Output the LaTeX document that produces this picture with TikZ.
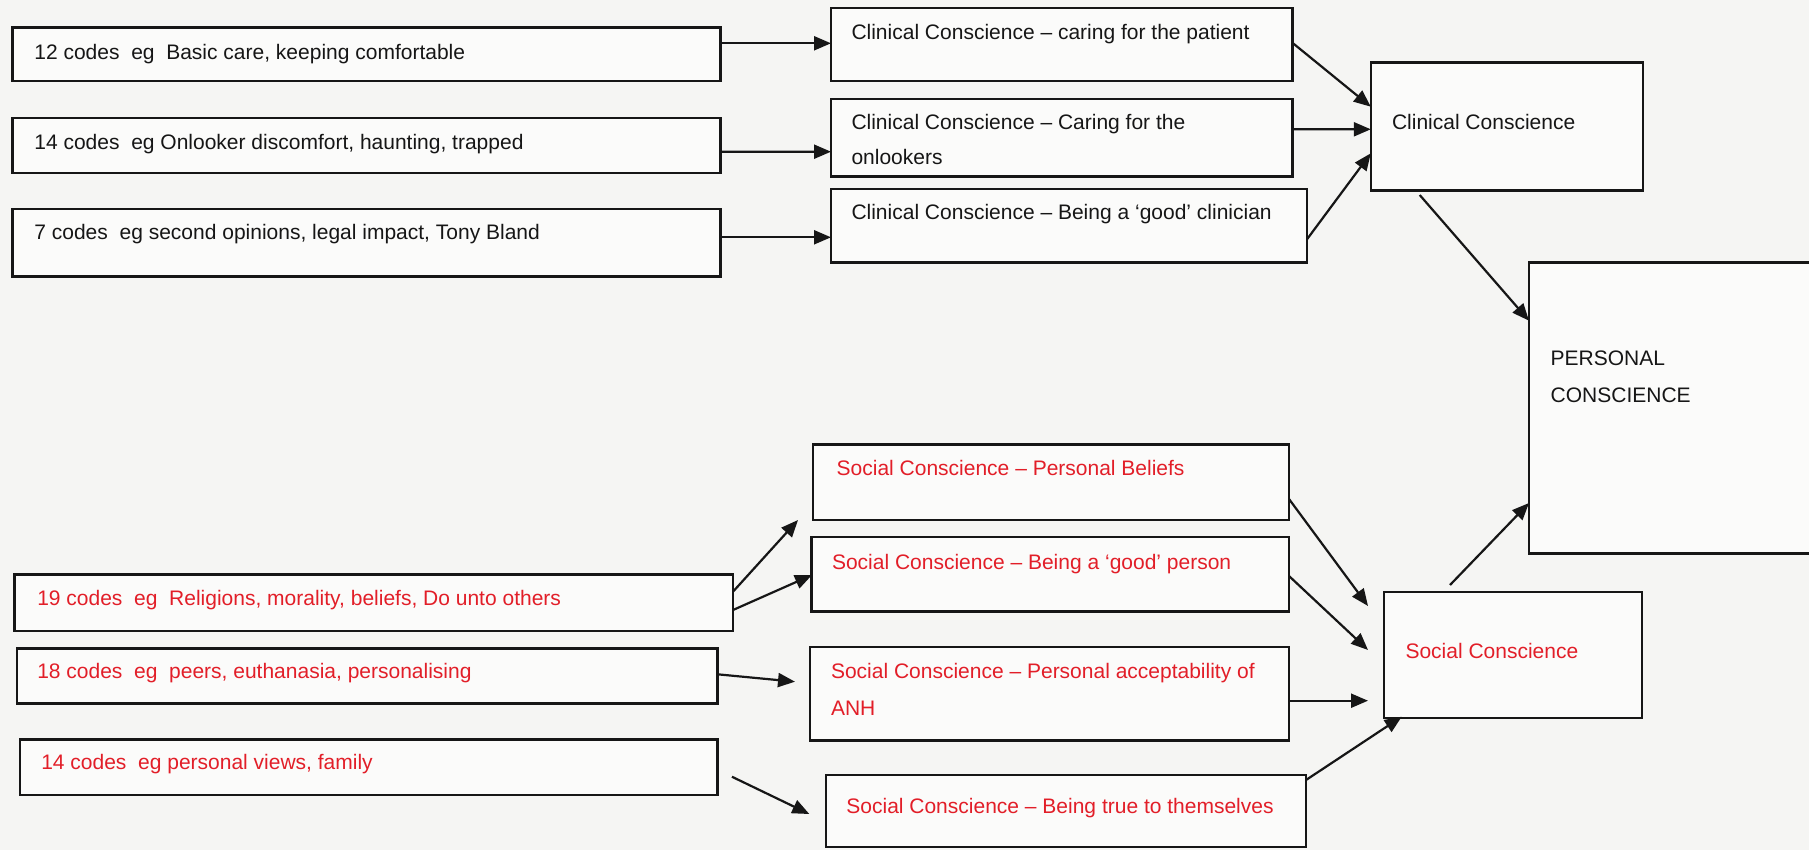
\documentclass[tikz,border=0pt]{standalone}
\usepackage{fontspec}
\setmainfont{Liberation Sans}
\usetikzlibrary{arrows.meta,fit,calc}

\definecolor{paper}{RGB}{245,245,243}
\definecolor{boxfill}{RGB}{251,251,250}
\definecolor{ink}{RGB}{22,22,22}
\definecolor{socred}{RGB}{226,30,40}

\begin{document}
\begin{tikzpicture}[x=1pt,y=-1pt,
  box/.style={draw=ink, line width=2.4pt, fill=boxfill, inner sep=0pt, outer sep=0pt},
  lbl/.style={anchor=base west, inner sep=0pt, outer sep=0pt, text=ink,
              font=\fontsize{21}{25}\selectfont},
  soc/.style={lbl, text=socred},
  arr/.style={draw=ink, line width=2.2pt, -{Triangle[length=17pt,width=14pt]}}]

% page and background
\useasboundingbox (0,0) rectangle (1809,850);
\fill[paper] (0,0) rectangle (1809,850);
\clip (0,0) rectangle (1809,850);

% ---- clinical branch: coded data boxes
\node[box, fit={(12.6,27.7) (720.4,81)}]    (A1) {};
\node[box, fit={(12.6,118.3) (720.4,173.3)}] (A2) {};
\node[box, fit={(12.6,209.3) (720.4,276.7)}] (A3) {};
\node[lbl] (tA1) at (34.4,59.3)  {12 codes~ eg~ Basic care, keeping comfortable};
\node[lbl] (tA2) at (34.4,149.3) {14 codes~ eg Onlooker discomfort, haunting, trapped};
\node[lbl] (tA3) at (34.4,239.3) {7 codes~ eg second opinions, legal impact, Tony Bland};

% ---- clinical branch: themes
\node[box, fit={(831,8.3) (1292.3,81)}]    (C1) {};
\node[box, fit={(831,99) (1292.3,176.7)}]  (C2) {};
\node[box, fit={(831,189.3) (1307,262.7)}] (C3) {};
\node[lbl] (tC1)  at (851.5,39.3)  {Clinical Conscience – caring for the patient};
\node[lbl] (tC2a) at (851.5,129.3) {Clinical Conscience – Caring for the};
\node[lbl] (tC2b) at (851.5,165)   {onlookers};
\node[lbl] (tC3)  at (851.5,219.3) {Clinical Conscience – Being a ‘good’ clinician};

\node[box, fit={(1370.8,62.7) (1643,190.7)}] (CC) {};
\node[lbl] (tCC) at (1392,130) {Clinical Conscience};

% ---- overall construct
\node[box, fit={(1529,262.7) (1840,553.5)}] (P) {};
\node[lbl] (tP1) at (1550.7,365.3) {PERSONAL};
\node[lbl] (tP2) at (1550.7,402.3) {CONSCIENCE};

% ---- social branch: coded data boxes
\node[box, fit={(14.4,574.3) (733,631)}]    (R1) {};
\node[box, fit={(17.2,648.3) (717.5,703.3)}] (R2) {};
\node[box, fit={(20,739.3) (717.5,795)}]     (R3) {};
\node[soc] (tR1) at (37.3,605)   {19 codes~ eg~ Religions, morality, beliefs, Do unto others};
\node[soc] (tR2) at (37.3,678.3) {18 codes~ eg~ peers, euthanasia, personalising};
\node[soc] (tR3) at (41.3,769.3) {14 codes~ eg personal views, family};

% ---- social branch: themes
\node[box, fit={(813,444.4) (1289,519.8)}]   (S1) {};
\node[box, fit={(811.6,537) (1289,611.6)}]   (S2) {};
\node[box, fit={(809.7,646.9) (1289,740.6)}] (S3) {};
\node[box, fit={(825.7,775) (1306,847)}]     (S4) {};
\node[soc] (tS1)  at (836.7,475.8) {Social Conscience – Personal Beliefs};
\node[soc] (tS2)  at (832,569.6)   {Social Conscience – Being a ‘good’ person};
\node[soc] (tS3a) at (831,678.6)   {Social Conscience – Personal acceptability of};
\node[soc] (tS3b) at (831,715)     {ANH};
\node[soc] (tS4)  at (846.4,813.3) {Social Conscience – Being true to themselves};

\node[box, fit={(1384,592) (1642,718)}] (SC) {};
\node[soc] (tSC) at (1405.5,658.3) {Social Conscience};

% ---- connectors: clinical
\draw[arr] ($(A1.north east)+(0,15.6)$) -- ($(C1.north west)+(0,35)$);
\draw[arr] ($(A2.north east)+(0,33.4)$) -- ($(C2.north west)+(0,52.7)$);
\draw[arr] ($(A3.north east)+(0,28)$)   -- ($(C3.north west)+(0,48)$);
\draw[arr] ($(C1.north east)+(0,34.4)$) -- ($(CC.north west)+(0,44)$);
\draw[arr] ($(C2.north east)+(0,30.3)$) -- ($(CC.north west)+(0,66.6)$);
\draw[arr] ($(C3.north east)+(0,50)$)   -- ($(CC.north west)+(0,90.6)$);
\draw[arr] ($(CC.south west)+(48.9,4.3)$) -- ($(P.north west)+(0,58)$);

% ---- connectors: social
\draw[arr] ($(R1.north east)+(0,17.4)$) -- ($(S1.south west)+(-15,0.2)$);
\draw[arr] ($(R1.north east)+(0,35.7)$) -- ($(S2.north west)+(0.4,38)$);
\draw[arr] ($(R2.north east)+(0,26)$)   -- ($(S3.north west)+(-14.7,34.8)$);
\draw[arr] ($(R3.north east)+(14.4,37.4)$) -- ($(S4.north west)+(-16.4,39)$);
\draw[arr] ($(S1.north east)+(0,54.6)$) -- ($(SC.north west)+(-16,14)$);
\draw[arr] ($(S2.north east)+(0,39)$)   -- ($(SC.north west)+(-16,58)$);
\draw[arr] ($(S3.north east)+(0,53.8)$) -- ($(SC.north west)+(-16,108.7)$);
\draw[arr] ($(S4.north east)+(0,5)$)    -- ($(SC.south west)+(17.7,-1.3)$);
\draw[arr] ($(SC.north west)+(66,-7)$)  -- ($(P.north west)+(0,240.3)$);
\end{tikzpicture}
\end{document}
